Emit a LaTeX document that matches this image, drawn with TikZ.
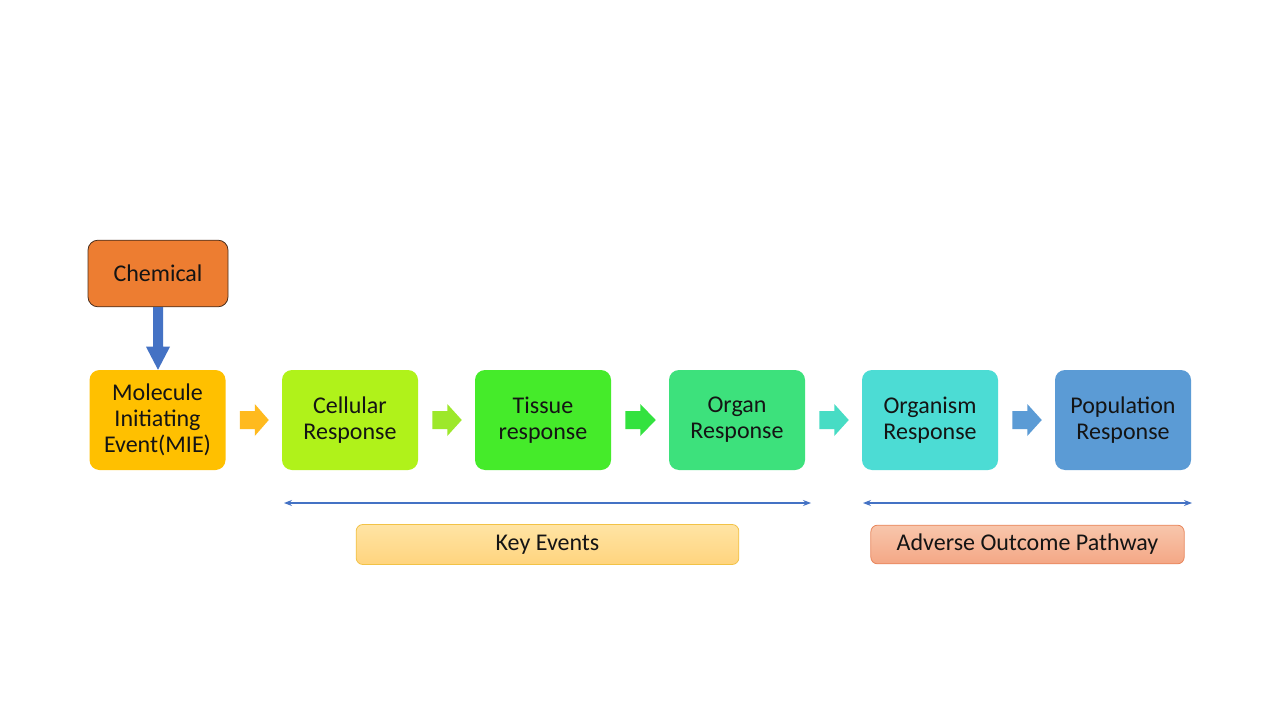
\documentclass[tikz,border=0pt]{standalone}
\usepackage{fontspec}
\setmainfont{Carlito}
\usetikzlibrary{calc,arrows.meta}
\definecolor{chemfill}{HTML}{ED7D31}
\definecolor{chemdraw}{HTML}{4A2E1C}
\definecolor{miefill}{HTML}{FFC000}
\definecolor{cellfill}{HTML}{B0F21A}
\definecolor{tissfill}{HTML}{45EB2A}
\definecolor{orgfill}{HTML}{3DE17C}
\definecolor{orgmfill}{HTML}{4CDCD4}
\definecolor{popfill}{HTML}{5B9BD5}
\definecolor{arA}{HTML}{FFBA1E}
\definecolor{arB}{HTML}{9DE82A}
\definecolor{arC}{HTML}{33E23F}
\definecolor{arD}{HTML}{47DCC4}
\definecolor{arE}{HTML}{5B9BD5}
\definecolor{downar}{HTML}{4472C4}
\definecolor{txt}{HTML}{141414}
\definecolor{keytop}{HTML}{FFE4A4}
\definecolor{keybot}{HTML}{FFD47E}
\definecolor{keydraw}{HTML}{F2C246}
\definecolor{aoptop}{HTML}{F8C6AC}
\definecolor{aopbot}{HTML}{F4A785}
\definecolor{aopdraw}{HTML}{E8865C}
\newcommand{\blockar}[3]{%
  \fill[#3] ($(#1.east)+(14,-9)$) -- ($(#1.east)+(29,-9)$) -- ($(#1.east)+(29,-16)$)
    -- ($(#2.west)+(-13,0)$) -- ($(#1.east)+(29,16)$) -- ($(#1.east)+(29,9)$)
    -- ($(#1.east)+(14,9)$) -- cycle;}
\begin{document}
\begin{tikzpicture}[x=0.75pt,y=-0.75pt,
  stage/.style={rounded corners=7.5pt,minimum width=102pt,minimum height=75pt,
    inner sep=0pt,align=center,text=txt,font=\fontsize{18}{19.5}\selectfont},
  band/.style={rounded corners=5pt,inner sep=0pt,align=center,text=txt,
    font=\fontsize{18}{19.5}\selectfont}]
\useasboundingbox[fill=white] (0,0) rectangle (1280,720);
\node[stage,fill=chemfill,draw=chemdraw,line width=0.6pt,minimum width=105pt,minimum height=50pt] (chem) at (158,273.5) {Chemical};
\node[stage,fill=miefill] (mie) at (157.5,420) {Molecule\\Initiating\\Event(MIE)};
\node[stage,fill=cellfill] (cell) at (350,420) {Cellular\\Response};
\node[stage,fill=tissfill] (tiss) at (543,420) {Tissue\\response};
\node[stage,fill=orgfill] (org) at (737,420) {Organ\\Response};
\node[stage,fill=orgmfill] (orgm) at (930,420) {Organism\\Response};
\node[stage,fill=popfill] (pop) at (1123,420) {Population\\Response};
\blockar{mie}{cell}{arA}
\blockar{cell}{tiss}{arB}
\blockar{tiss}{org}{arC}
\blockar{org}{orgm}{arD}
\blockar{orgm}{pop}{arE}
\coordinate (tip) at (chem.south |- mie.north);
\fill[downar] ($(chem.south)+(-5,0)$) -- ($(chem.south)+(5,0)$) -- ($(tip)+(5,-23)$)
  -- ($(tip)+(12,-23)$) -- (tip) -- ($(tip)+(-12,-23)$)
  -- ($(tip)+(-5,-23)$) -- cycle;
\coordinate (kl) at (284,503);
\coordinate (kr) at (811,503);
\coordinate (al) at (863,503);
\coordinate (ar) at (1192,503);
\draw[downar,line width=0.8pt,{Stealth[length=6pt,width=4.5pt]}-{Stealth[length=6pt,width=4.5pt]}] (kl) -- (kr);
\draw[downar,line width=0.8pt,{Stealth[length=6pt,width=4.5pt]}-{Stealth[length=6pt,width=4.5pt]}] (al) -- (ar);
\node[band,top color=keytop,bottom color=keybot,draw=keydraw,line width=0.6pt,minimum width=287pt,minimum height=30pt] (key) at (547.5,544.5) {Key Events};
\node[band,top color=aoptop,bottom color=aopbot,draw=aopdraw,line width=0.6pt,minimum width=235pt,minimum height=29pt] (aop) at (1027.5,544.5) {Adverse Outcome Pathway};
\end{tikzpicture}
\end{document}
